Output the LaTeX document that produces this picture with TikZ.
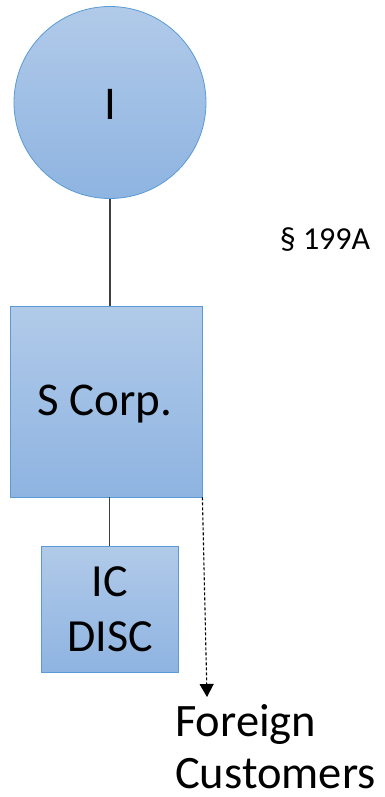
\documentclass[tikz,border=0pt]{standalone}
\usepackage{fontspec}
\setmainfont{Carlito}
\usetikzlibrary{arrows.meta}
\definecolor{edgeblue}{HTML}{5B9BD5}
\definecolor{topblue}{HTML}{B1CAE9}
\definecolor{botblue}{HTML}{8EB4E1}
\definecolor{linegray}{HTML}{404040}
\tikzset{
  shapebox/.style={draw=edgeblue, line width=0.8pt, top color=topblue, bottom color=botblue, inner sep=0pt},
  bigtext/.style={font=\fontsize{47}{54}\selectfont, align=center},
  link/.style={draw=linegray, line width=1.2pt}
}
\begin{document}
\begin{tikzpicture}[x=1pt,y=-1pt]
\useasboundingbox (0,0) rectangle (385,797);
\node[shapebox, circle, minimum size=192pt] (i) at (110,102.5) {};
\node[bigtext] at (110,104) {I};
\node[shapebox, rectangle, minimum width=192pt, minimum height=191pt] (s) at (106,401.5) {};
\node[bigtext] at (105,404) {S Corp.};
\node[shapebox, rectangle, minimum width=137pt, minimum height=126pt] (ic) at (109.5,609) {};
\node[bigtext, font=\fontsize{46}{55}\selectfont] at (110,609) {IC\\DISC};
\node[font=\fontsize{32}{38}\selectfont, anchor=center] (sec) at (325,240) {§ 199A};
\node[font=\fontsize{46.5}{52}\selectfont, align=left, anchor=north west, inner sep=0pt] (fc) at (175,704) {Foreign\\Customers};
\coordinate (a0) at (s.south east);
\coordinate (a1) at (207,697);
\draw[link] (i.south) -- (s.north -| i.south);
\draw[link] (s.south -| ic.north) -- (ic.north);
\draw[line width=1.1pt, dash pattern=on 3pt off 2pt, -{Triangle[length=13pt,width=14pt]}] (a0) -- (a1);
\end{tikzpicture}
\end{document}
